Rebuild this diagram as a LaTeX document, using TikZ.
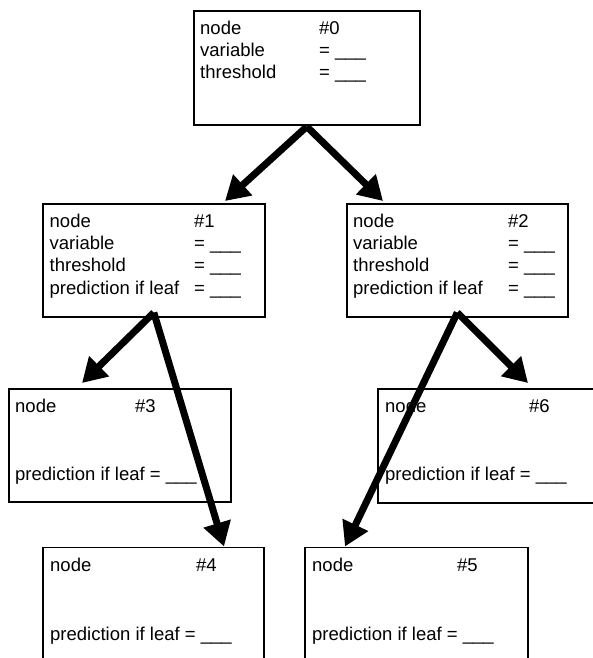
\documentclass[tikz,border=0pt]{standalone}
\usepackage{fontspec}
\setmainfont{Liberation Sans}
\usetikzlibrary{arrows.meta,calc}
\newcommand\fsz{\fontsize{18.5pt}{22pt}\selectfont}
\begin{document}
\begin{tikzpicture}[x=1pt,y=-1pt,
  box/.style={draw=black, line width=1.6pt, fill=white, anchor=north west, inner sep=0pt},
  lbl/.style={anchor=base west, inner sep=0pt, font=\fsz},
  arr/.style={line width=7pt, -{Triangle[length=24pt,width=27pt]}}]
\useasboundingbox (0,0) rectangle (593,658);
\clip (0,0) rectangle (593,658);
% boxes
\node[box, minimum width=226pt, minimum height=114pt] (n0) at (193,10) {};
\node[box, minimum width=222pt, minimum height=113pt] (n1) at (42,203) {};
\node[box, minimum width=221pt, minimum height=113pt] (n2) at (346,203) {};
\node[box, minimum width=222pt, minimum height=113pt] (n3) at (8,388) {};
\node[box, minimum width=222pt, minimum height=114pt] (n6) at (377,388) {};
\node[box, minimum width=221pt, minimum height=118pt] (n4) at (42,546.5) {};
\node[box, minimum width=223pt, minimum height=118pt] (n5) at (304,546.5) {};
% box 0 text
\node[lbl] (t0a) at (200,35) {node};
\node[lbl] (t0b) at (319,35) {\#0};
\node[lbl] (t0c) at (200,57) {variable};
\node[lbl] (t0d) at (319,57) {= \_\_\_};
\node[lbl] (t0e) at (200,79) {threshold};
\node[lbl] (t0f) at (319,79) {= \_\_\_};
% box 1 text
\node[lbl] (t1a) at (49.5,227.5) {node};
\node[lbl] (t1b) at (194,227.5) {\#1};
\node[lbl] (t1c) at (49.5,249.5) {variable};
\node[lbl] (t1d) at (194,249.5) {= \_\_\_};
\node[lbl] (t1e) at (49.5,271.8) {threshold};
\node[lbl] (t1f) at (194,271.8) {= \_\_\_};
\node[lbl] (t1g) at (49.5,294) {prediction if leaf};
\node[lbl] (t1h) at (194,294) {= \_\_\_};
% box 2 text
\node[lbl] (t2a) at (353,227.5) {node};
\node[lbl] (t2b) at (508,227.5) {\#2};
\node[lbl] (t2c) at (353,249.5) {variable};
\node[lbl] (t2d) at (508,249.5) {= \_\_\_};
\node[lbl] (t2e) at (353,271.8) {threshold};
\node[lbl] (t2f) at (508,271.8) {= \_\_\_};
\node[lbl] (t2g) at (353,294) {prediction if leaf};
\node[lbl] (t2h) at (508,294) {= \_\_\_};
% box 3 text
\node[lbl] (t3a) at (15,412.7) {node};
\node[lbl] (t3b) at (135,412.7) {\#3};
\node[lbl] (t3c) at (15,480) {prediction if leaf = \_\_\_};
% box 6 text
\node[lbl] (t6a) at (385,412.7) {node};
\node[lbl] (t6b) at (529,412.7) {\#6};
\node[lbl] (t6c) at (385,480) {prediction if leaf = \_\_\_};
% box 4 text
\node[lbl] (t4a) at (50,571.7) {node};
\node[lbl] (t4b) at (196,571.7) {\#4};
\node[lbl] (t4c) at (50,640) {prediction if leaf = \_\_\_};
% box 5 text
\node[lbl] (t5a) at (312,571.7) {node};
\node[lbl] (t5b) at (457,571.7) {\#5};
\node[lbl] (t5c) at (312,640) {prediction if leaf = \_\_\_};
% connector ends
\coordinate (s0) at ([yshift=-1pt]n0.south);
\coordinate (s1) at ([yshift=5pt]n1.south);
\coordinate (s2) at ([yshift=5pt]n2.south);
\coordinate (e1) at ([shift={(183pt,2pt)}]n1.north west);
\coordinate (e2) at ([shift={(37pt,2pt)}]n2.north west);
\coordinate (e3) at ([shift={(74pt,5pt)}]n3.north west);
\coordinate (e6) at ([shift={(151pt,5pt)}]n6.north west);
\coordinate (e4) at ([shift={(182pt,0pt)}]n4.north west);
\coordinate (e5) at ([shift={(41pt,0pt)}]n5.north west);
% connectors
\draw[arr] (s0) -- (e1);
\draw[arr] (s0) -- (e2);
\draw[arr] (s1) -- (e3);
\draw[arr] (s1) -- (e4);
\draw[arr] (s2) -- (e6);
\draw[arr] (s2) -- (e5);
\end{tikzpicture}
\end{document}
